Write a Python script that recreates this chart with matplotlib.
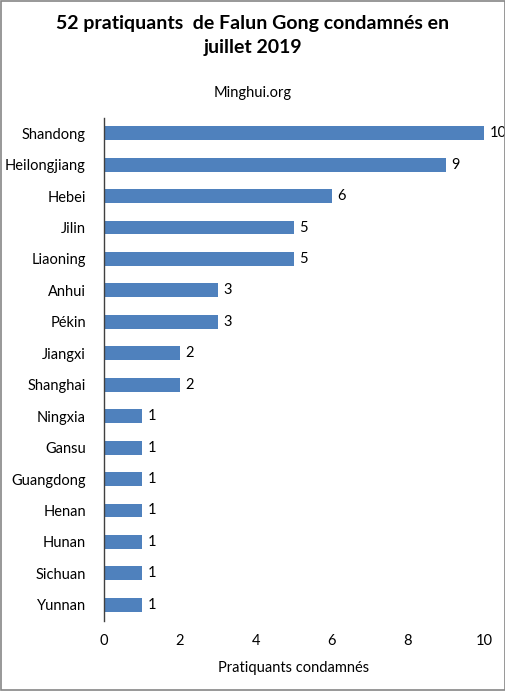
import matplotlib
matplotlib.use('Agg')
import matplotlib.pyplot as plt
from matplotlib.patches import Rectangle

provinces = ['Shandong', 'Heilongjiang', 'Hebei', 'Jilin', 'Liaoning', 'Anhui', 'Pékin',
             'Jiangxi', 'Shanghai', 'Ningxia', 'Gansu', 'Guangdong', 'Henan', 'Hunan',
             'Sichuan', 'Yunnan']
counts = [10, 9, 6, 5, 5, 3, 3, 2, 2, 1, 1, 1, 1, 1, 1, 1]
xticks = [0, 2, 4, 6, 8, 10]

plt.rcParams['font.family'] = ['Lato', 'DejaVu Sans']

fig = plt.figure(figsize=(5.06, 6.91), dpi=100)
ax = fig.add_axes([104 / 506, 1 - 620.5 / 691, 380 / 506, 503 / 691])

pos = list(range(len(provinces)))
ax.barh(pos, counts, height=0.44, color='#4F81BD')
for p, c in zip(pos, counts):
    ax.text(c + 0.14, p, str(c), va='center', ha='left', fontsize=10.5, color='black')

ax.set_ylim(len(provinces) - 0.5, -0.5)
ax.set_xlim(0, 10)
ax.set_yticks(pos)
ax.set_yticklabels(provinces, fontsize=10.5)
ax.set_xticks(xticks)
ax.set_xticklabels([str(t) for t in xticks], fontsize=10.5)
ax.tick_params(axis='both', length=0)
ax.tick_params(axis='y', pad=13)
ax.tick_params(axis='x', pad=10)
for s in ['top', 'right', 'bottom']:
    ax.spines[s].set_visible(False)
ax.spines['left'].set_color('#404040')
ax.spines['left'].set_linewidth(1)
ax.set_xlabel('Pratiquants condamnés', fontsize=10.5, labelpad=9)

fig.text(253 / 506, 1 - 35 / 691, '52 pratiquants  de Falun Gong condamnés en\njuillet 2019',
         ha='center', va='center', fontsize=14, fontweight='bold', linespacing=1.5)
fig.text(253 / 506, 1 - 93 / 691, 'Minghui.org', ha='center', va='center', fontsize=10.5)

fig.patches.append(Rectangle((0.001, 0.001), 0.997, 0.997, transform=fig.transFigure,
                             fill=False, edgecolor='#868686', linewidth=1.2))

fig.savefig('out.png', dpi=100)
